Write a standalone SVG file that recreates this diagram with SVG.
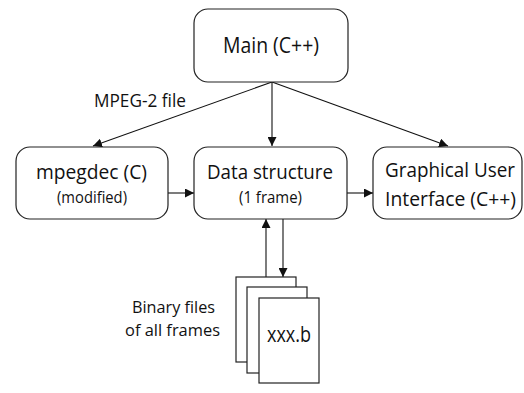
<svg xmlns="http://www.w3.org/2000/svg" width="524" height="393" viewBox="0 0 524 393">
<defs>
<style>
.box{fill:#fff;stroke:#222;stroke-width:1.2}
.page{fill:#fff;stroke:#222;stroke-width:1.2}
.ln{stroke:#111;stroke-width:1.1;fill:none}
text{font-family:"Open Sans","Noto Sans",sans-serif;fill:#111;text-anchor:middle}
</style>
<marker id="ah" viewBox="0 0 10 10" refX="10" refY="5" markerWidth="9" markerHeight="9" markerUnits="userSpaceOnUse" orient="auto">
<path d="M0,0 L10,5 L0,10 z" fill="#111"/>
</marker>
</defs>
<rect width="524" height="393" fill="#fff"/>
<g id="connectors">
<line class="ln" x1="272" y1="82" x2="93" y2="146" marker-end="url(#ah)"/>
<line class="ln" x1="272" y1="82" x2="272" y2="146" marker-end="url(#ah)"/>
<line class="ln" x1="272" y1="82" x2="448" y2="146" marker-end="url(#ah)"/>
<line class="ln" x1="168" y1="193" x2="194" y2="193" marker-end="url(#ah)"/>
<line class="ln" x1="347" y1="193" x2="373" y2="193" marker-end="url(#ah)"/>
<line class="ln" x1="266" y1="277" x2="266" y2="219" marker-end="url(#ah)"/>
<line class="ln" x1="283" y1="219" x2="283" y2="277" marker-end="url(#ah)"/>
<text x="140" y="107" font-size="18" textLength="92" lengthAdjust="spacingAndGlyphs">MPEG-2 file</text>
</g>
<g id="main">
<rect class="box" x="194" y="9" width="154" height="73" rx="14"/>
<text x="271" y="53" font-size="21.5" textLength="96" lengthAdjust="spacingAndGlyphs">Main (C++)</text>
</g>
<g id="mpegdec">
<rect class="box" x="16" y="147" width="152" height="72" rx="14"/>
<text x="91.5" y="179" font-size="20" textLength="111" lengthAdjust="spacingAndGlyphs">mpegdec (C)</text>
<text x="92" y="203" font-size="16" textLength="70" lengthAdjust="spacingAndGlyphs">(modified)</text>
</g>
<g id="data">
<rect class="box" x="194" y="147" width="153" height="72" rx="14"/>
<text x="270" y="179" font-size="20" textLength="126" lengthAdjust="spacingAndGlyphs">Data structure</text>
<text x="270.5" y="203" font-size="16" textLength="63" lengthAdjust="spacingAndGlyphs">(1 frame)</text>
</g>
<g id="gui">
<rect class="box" x="373" y="147" width="149" height="72" rx="14"/>
<text x="450" y="177" font-size="20" textLength="130" lengthAdjust="spacingAndGlyphs">Graphical User</text>
<text x="450.5" y="206" font-size="20" textLength="131" lengthAdjust="spacingAndGlyphs">Interface (C++)</text>
</g>
<g id="files">
<rect class="page" x="236" y="277" width="60" height="85"/>
<rect class="page" x="247" y="287" width="60" height="86"/>
<rect class="page" x="259" y="298" width="60" height="85"/>
<text x="289" y="342" font-size="21.5" textLength="44" lengthAdjust="spacingAndGlyphs">xxx.b</text>
<text x="173.5" y="313" font-size="17" textLength="83" lengthAdjust="spacingAndGlyphs">Binary files</text>
<text x="172.5" y="336" font-size="17" textLength="95" lengthAdjust="spacingAndGlyphs">of all frames</text>
</g>
</svg>
